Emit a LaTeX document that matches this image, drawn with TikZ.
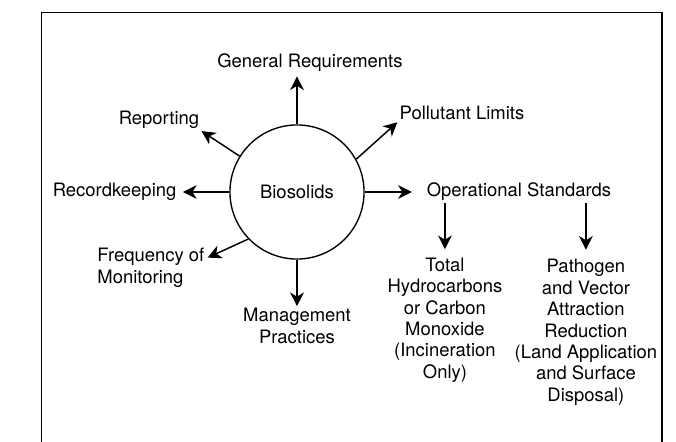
\documentclass[tikz,border=0pt]{standalone}
\usepackage{fontspec}
\setmainfont{TeX Gyre Heros}
\usetikzlibrary{positioning,arrows.meta}

\begin{document}
\begin{tikzpicture}
	\useasboundingbox (-9.9,-8.3) rectangle (12.633,6.4);
	\draw[line width=1.3pt] (-8.51,-8.5) |- (12.167,5.99) -- (12.167,-8.5);
	\begin{scope}[every node/.style={inner sep=2pt,align=center,font=\fontsize{17.5}{20.3}\selectfont}]
		\node[circle,draw,line width=1.3pt,minimum size=4.47cm,inner sep=0pt] (B) at (0,0) {Biosolids};
		\node (G) at (0.43,4.3) {General Requirements};
		\node (P) at (5.5,2.63) {Pollutant Limits};
		\node (R) at (-4.6,2.4) {Reporting};
		\node (K) at (-6.08,0) {Recordkeeping};
		\node (O) at (7.4,0) {Operational Standards};
		\node[anchor=west,align=left] (F) at (-6.73,-2.53) {Frequency of\\Monitoring};
		\node (M) at (0,-4.47) {Management\\Practices};
		\node (T) at (4.93,-4.27) {Total\\Hydrocarbons\\or Carbon\\Monoxide\\(Incineration\\Only)};
		\node (A) at (9.63,-4.68) {Pathogen\\and Vector\\Attraction\\Reduction\\(Land Application\\and Surface\\Disposal)};
	\end{scope}
	\begin{scope}[>={Stealth[black,length=13pt,width=13pt,inset=4pt]},
              every edge/.style={draw=black,line width=1.4pt}]
		\path [->] (B) edge[shorten >=2pt] (B |- G.south);
		\path [->] (B.29) edge (P.south west);
		\path [->] (B.148) edge (R.south east);
		\path [->] (B) edge[shorten >=4pt] (K);
		\path [->] (B) edge[shorten >=12pt] (O);
		\path [->] (B.224) edge[shorten >=1pt] (F.10);
		\path [->] (B) edge (M);
		\path [->] (T |- O.south) edge[shorten >=6pt] (T.north);
		\path [->] (A |- O.south) edge[shorten >=7pt] (A.north);
	\end{scope}
\end{tikzpicture}
\end{document}
